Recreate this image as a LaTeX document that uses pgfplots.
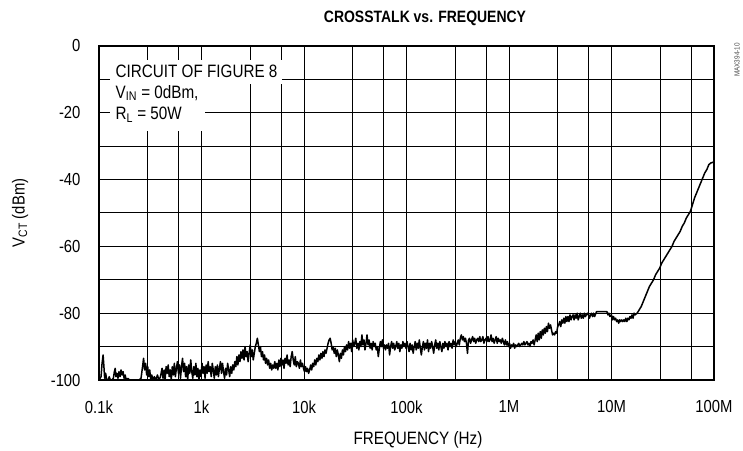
\documentclass[border=0pt]{standalone}
\usepackage{fontspec}
\setmainfont{Liberation Sans}[FakeStretch=0.85]
\usepackage{pgfplots}
\pgfplotsset{compat=1.18}
\usepackage{pgfplotstable}

\pgfplotstableread{
u v
2.000 -100
2.010 -99.5
2.020 -99
2.030 -95
2.040 -92.5
2.048 -96
2.055 -99.5
2.065 -98
2.075 -100
2.090 -100
2.100 -99
2.110 -100
2.125 -100
2.140 -99.5
2.150 -97.5
2.158 -96.5
2.165 -99
2.175 -98
2.185 -99.5
2.195 -97.5
2.205 -99
2.215 -97
2.225 -98.5
2.235 -97.5
2.245 -99.5
2.255 -98.5
2.265 -100
2.280 -99.5
2.300 -100
2.330 -100
2.360 -100
2.390 -100
2.410 -99.5
2.425 -96
2.435 -93.5
2.445 -97
2.455 -95
2.465 -98.5
2.475 -96
2.485 -99
2.495 -97
2.505 -100
2.515 -98.5
2.525 -100
2.540 -99
2.555 -100
2.570 -98.5
2.585 -100
2.600 -99
2.615 -96.5
2.625 -99.5
2.635 -97
2.645 -100
2.655 -96
2.665 -98
2.675 -95.5
2.685 -99
2.695 -97
2.705 -100
2.715 -96
2.725 -98.5
2.735 -95
2.745 -99
2.755 -96.5
2.765 -94.5
2.775 -98
2.785 -95.5
2.795 -99.5
2.805 -96
2.815 -93.5
2.825 -97.5
2.835 -95
2.845 -99
2.855 -96
2.865 -100
2.875 -95.5
2.885 -98
2.895 -94
2.905 -97.5
2.915 -99.5
2.925 -96
2.935 -98.5
2.945 -95
2.955 -99
2.965 -96.5
2.975 -100
2.985 -97
2.995 -99
3.005 -95
3.015 -98
3.025 -96
3.035 -99.5
3.045 -95.5
3.055 -98
3.065 -94.5
3.075 -97.5
3.085 -96
3.095 -99
3.105 -95
3.115 -97
3.125 -99.5
3.135 -96
3.145 -98.5
3.155 -95.5
3.165 -99
3.175 -96.5
3.185 -94.5
3.195 -98
3.205 -95
3.215 -97.5
3.225 -99.5
3.235 -96.5
3.245 -98.5
3.255 -95
3.265 -97
3.275 -99
3.285 -96
3.295 -98
3.305 -95.5
3.315 -97
3.325 -94.5
3.335 -96
3.345 -93
3.355 -95.5
3.365 -92.5
3.375 -94.5
3.385 -91.5
3.395 -93.5
3.405 -91
3.415 -94
3.425 -90
3.435 -93
3.445 -91.5
3.455 -94.5
3.465 -92
3.475 -89.5
3.485 -93
3.495 -91
3.505 -94
3.515 -92
3.525 -90
3.535 -89
3.545 -87.5
3.555 -89.5
3.565 -91.5
3.575 -90
3.585 -93
3.595 -91.5
3.605 -94
3.615 -92.5
3.625 -95
3.635 -93.5
3.645 -95.5
3.655 -94
3.665 -96.5
3.675 -95
3.685 -97
3.695 -95.5
3.705 -96.5
3.715 -94.5
3.725 -96.5
3.735 -95
3.745 -97
3.755 -94
3.765 -96
3.775 -93.5
3.785 -95.5
3.795 -94
3.805 -96.5
3.815 -93.5
3.825 -95
3.835 -92.5
3.845 -95.5
3.855 -94
3.865 -96
3.875 -93
3.885 -91.5
3.895 -94
3.905 -95.5
3.915 -93
3.925 -96
3.935 -94.5
3.945 -95
3.955 -96.5
3.965 -94
3.975 -96
3.985 -95
3.995 -96.5
4.005 -97.5
4.015 -96
4.025 -97.5
4.035 -96.5
4.045 -98
4.055 -97
4.065 -95.5
4.075 -97
4.085 -95
4.095 -96
4.105 -94
4.115 -95.5
4.125 -93.5
4.135 -94.5
4.145 -92.5
4.155 -94
4.165 -92
4.175 -93.5
4.185 -91.5
4.195 -93
4.205 -91
4.215 -92
4.225 -90.5
4.235 -89
4.245 -88
4.255 -87.5
4.265 -89
4.275 -91
4.285 -90
4.295 -92
4.305 -90.5
4.315 -93
4.325 -91
4.335 -92.5
4.345 -94.5
4.355 -92
4.365 -93.5
4.375 -91
4.385 -92.5
4.395 -90
4.405 -91.5
4.415 -89.5
4.425 -91
4.435 -88.5
4.445 -90.5
4.455 -89
4.465 -91.5
4.475 -88
4.485 -90
4.495 -89
4.505 -87.5
4.515 -90.5
4.525 -89
4.535 -91
4.545 -88.5
4.555 -90
4.565 -86.5
4.575 -89.5
4.585 -88
4.595 -91
4.605 -89
4.615 -86.5
4.625 -89.5
4.635 -88
4.645 -90.5
4.655 -89
4.665 -91
4.675 -88.5
4.685 -90
4.695 -89
4.705 -91
4.715 -90
4.725 -93
4.735 -90.5
4.745 -88.5
4.755 -90
4.765 -88
4.775 -90.5
4.785 -89.5
4.795 -91
4.805 -89.5
4.815 -90.5
4.825 -89
4.835 -92.5
4.845 -90
4.855 -88.5
4.865 -90.5
4.875 -89
4.885 -91
4.895 -90
4.905 -88.5
4.915 -90.5
4.925 -89
4.935 -91.5
4.945 -89.5
4.955 -90.5
4.965 -88.5
4.975 -90
4.985 -89
4.995 -90.5
5.005 -88.5
5.015 -90
5.025 -91.5
5.035 -89
5.045 -91
5.055 -89.5
5.065 -92
5.075 -90
5.085 -88.5
5.095 -91
5.105 -89
5.115 -90.5
5.125 -88
5.135 -90.5
5.145 -92.5
5.155 -90
5.165 -88.5
5.175 -91
5.185 -89
5.195 -90.5
5.205 -88
5.215 -91.5
5.225 -89
5.235 -90.5
5.245 -88.5
5.255 -90
5.265 -92
5.275 -89.5
5.285 -88
5.295 -90.5
5.305 -89
5.315 -91
5.325 -88.5
5.335 -90
5.345 -91.5
5.355 -89
5.365 -90.5
5.375 -88.5
5.385 -90
5.395 -89
5.405 -91
5.415 -88.5
5.425 -90
5.435 -89
5.445 -90.5
5.455 -88
5.465 -89.5
5.475 -88.5
5.485 -90
5.495 -89
5.505 -88
5.515 -89.5
5.525 -87.5
5.535 -86.5
5.545 -88
5.555 -87
5.565 -88.5
5.575 -87.5
5.585 -89
5.595 -92
5.605 -88
5.615 -87.5
5.625 -89
5.635 -88
5.645 -87
5.655 -88.5
5.665 -87.5
5.675 -89
5.685 -88
5.695 -87.5
5.705 -88.5
5.715 -87
5.725 -88.5
5.735 -88
5.745 -87
5.755 -89
5.765 -88
5.775 -87.5
5.785 -88.5
5.795 -87
5.805 -88.5
5.815 -88
5.825 -86.5
5.835 -88.5
5.845 -87.5
5.855 -89
5.865 -88
5.875 -87
5.885 -89
5.895 -87.5
5.905 -88.5
5.915 -88
5.925 -89
5.935 -87.5
5.945 -88.5
5.955 -89.5
5.965 -88
5.975 -89.5
5.985 -88.5
5.995 -90
6.005 -89
6.015 -90.5
6.025 -89.5
6.035 -90
6.045 -89
6.055 -90.5
6.065 -89.5
6.075 -90
6.085 -89.5
6.095 -89
6.105 -90
6.115 -89.5
6.125 -89
6.135 -89.5
6.145 -88.5
6.155 -89.5
6.165 -89
6.175 -88.5
6.185 -89.5
6.195 -89
6.205 -90
6.215 -88.5
6.225 -89
6.235 -88
6.245 -89.5
6.255 -88
6.265 -86.5
6.275 -88.5
6.285 -86
6.295 -88
6.305 -85.5
6.315 -87.5
6.325 -85
6.335 -86.5
6.345 -84.5
6.355 -86
6.365 -84
6.375 -85.5
6.385 -83
6.395 -84.5
6.405 -83.5
6.415 -85
6.425 -86.5
6.435 -86
6.445 -86.5
6.455 -85.5
6.465 -86
6.475 -84
6.485 -83.5
6.495 -82.5
6.505 -84
6.515 -82
6.525 -83
6.535 -81.5
6.545 -83
6.555 -81
6.565 -82.5
6.575 -81
6.585 -82.5
6.595 -80.5
6.605 -82
6.615 -81
6.625 -80.5
6.635 -82
6.645 -80.5
6.655 -81.5
6.665 -80
6.675 -82
6.685 -81
6.695 -80
6.705 -81.5
6.715 -80.5
6.725 -81.5
6.735 -80
6.745 -81
6.755 -80.5
6.765 -80
6.775 -80.5
6.785 -81.5
6.795 -80.5
6.805 -80
6.815 -81
6.825 -80
6.835 -81
6.855 -79.5
6.875 -79.5
6.895 -79.5
6.915 -79.5
6.935 -79.5
6.955 -79.5
6.965 -80.5
6.975 -80
6.985 -81
7.000 -80.5
7.010 -82
7.020 -81
7.030 -82
7.040 -81.5
7.050 -82.5
7.060 -82
7.070 -83
7.080 -82
7.090 -82.5
7.100 -82
7.110 -82.5
7.120 -82
7.130 -82.5
7.140 -81.5
7.150 -82.5
7.160 -81.5
7.170 -82
7.180 -81
7.190 -81.5
7.200 -80.5
7.210 -81.5
7.220 -80
7.230 -80.5
7.250 -80
7.270 -79
7.290 -78
7.310 -76.5
7.330 -75
7.350 -73.5
7.370 -72
7.390 -71
7.410 -70
7.430 -68.5
7.450 -67.5
7.470 -66.5
7.490 -65
7.510 -64
7.530 -63
7.550 -62
7.570 -61
7.590 -60
7.610 -58.5
7.630 -57.5
7.650 -56.5
7.670 -55.5
7.690 -54
7.710 -53
7.730 -51.5
7.750 -50.5
7.770 -49.5
7.790 -47.5
7.810 -45.5
7.830 -44
7.850 -42.5
7.870 -41
7.890 -39.5
7.910 -38
7.930 -37
7.950 -35.5
7.970 -35
7.990 -34.8
8.000 -34.7
}\ct

\begin{document}
\begin{tikzpicture}
\useasboundingbox (-99bp,-71bp) rectangle (644bp,380bp);
\begin{axis}[
  name=ax,
  scale only axis, width=615bp, height=334bp,
  xmin=2, xmax=8, ymin=-100, ymax=0,
  xtick={2,3,4,5,6,7,8},
  xticklabels={0.1k,1k,10k,100k,1M,10M,100M},
  ytick={-100,-80,-60,-40,-20,0},
  yticklabels={-100,-80,-60,-40,-20,0},
  minor ytick={-90,-70,-50,-30,-10},
  minor xtick={2.4771,2.7782,3.4771,3.7782,4.4771,4.7782,5.4771,5.7782,6.4771,6.7782,7.4771,7.7782},
  grid=both,
  major grid style={black, line width=1bp},
  minor grid style={black, line width=1bp},
  axis line style={black, line width=1.1bp},
  major tick length=0pt, minor tick length=0pt,
  tick label style={font=\fontsize{17.5}{20}\selectfont},
  xticklabel style={yshift=-17bp},
  yticklabel style={xshift=-15bp},
]
\addplot[black, line width=1.5bp, line join=round] table[x=u, y=v] {\ct};
\end{axis}
\fill[white] (11bp,320bp) rectangle (183bp,296bp);
\fill[white] (11bp,297bp) rectangle (106bp,249bp);
\begin{scope}[every node/.style={anchor=west, inner sep=1.5bp, font=\fontsize{18}{22}\selectfont}]
\node at (15bp,309bp) {CIRCUIT OF FIGURE 8};
\node at (15bp,287bp) {V\textsubscript{IN} = 0dBm,};
\node at (15bp,265bp) {R\textsubscript{L} = 50W};
\end{scope}
\node[font=\bfseries\fontsize{16.5}{19}\selectfont] at (326bp,362bp) {CROSSTALK vs. FREQUENCY};
\node[font=\fontsize{18}{21}\selectfont] at (319bp,-60bp) {FREQUENCY (Hz)};
\node[font=\fontsize{17.5}{20}\selectfont, rotate=90] at (-79bp,167bp) {V\textsubscript{CT} (dBm)};
\node[font=\fontsize{7.5}{9}\selectfont, rotate=90, text=black!70] at (638bp,320bp) {MAX394-10};
\end{tikzpicture}
\end{document}
